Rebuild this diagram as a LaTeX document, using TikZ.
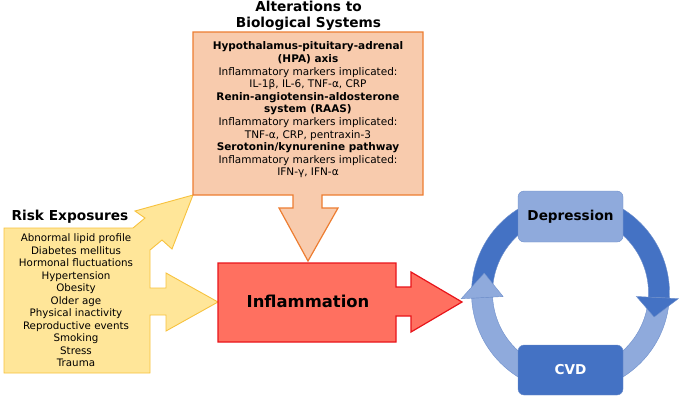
\documentclass[tikz,border=0pt]{standalone}
\usepackage{fontspec}
\setmainfont{DejaVu Sans}
\definecolor{yfill}{HTML}{FFE699}
\definecolor{yedge}{HTML}{F7C23E}
\definecolor{ofill}{HTML}{F8CBAD}
\definecolor{oedge}{HTML}{ED7D31}
\definecolor{rfill}{HTML}{FF7060}
\definecolor{redge}{HTML}{E8141A}
\definecolor{dblue}{HTML}{4472C4}
\definecolor{lblue}{HTML}{8FAADC}
\definecolor{bedge}{HTML}{6E8FCB}
\begin{document}
\begin{tikzpicture}[x=1pt,y=-1pt,
  yshape/.style={fill=yfill,draw=yedge,line width=0.9pt,line join=miter},
  oshape/.style={fill=ofill,draw=oedge,line width=1.2pt,line join=miter},
  rshape/.style={fill=rfill,draw=redge,line width=1.2pt,line join=miter},
  darkpart/.style={fill=dblue,draw=bedge,line width=0.4pt},
  lightpart/.style={fill=lblue,draw=bedge,line width=0.4pt},
  bodytxt/.style={inner sep=0pt,align=center,font=\fontsize{10.5}{12.6}\selectfont},
  titletxt/.style={inner sep=0pt,align=center,font=\fontsize{13.7}{16}\selectfont\bfseries},
  boxtxt/.style={inner sep=0pt,font=\fontsize{13.6}{15}\selectfont\bfseries}]
\useasboundingbox (0,0) rectangle (679,400);

% Risk exposures shape
\draw[yshape] (4,228) -- (133,228) -- (145,218) -- (135,211) -- (193,195)
  -- (172,249) -- (162,240) -- (150,250) -- (150,288) -- (166,288) -- (166,273)
  -- (218,302) -- (166,331) -- (166,315) -- (150,315) -- (150,373) -- (4,373) -- cycle;
\node[titletxt] (risktitle) at (70,217) {Risk Exposures};
\node[bodytxt,font=\fontsize{10.3}{12.5}\selectfont] (risklist) at (76,300.5) {Abnormal lipid profile\\Diabetes mellitus\\Hormonal fluctuations\\Hypertension\\Obesity\\Older age\\Physical inactivity\\Reproductive events\\Smoking\\Stress\\Trauma};

% Alterations shape
\draw[oshape] (193,32) -- (423,32) -- (423,195) -- (322,195) -- (322,208) -- (338,208)
  -- (308,261) -- (279,208) -- (293,208) -- (293,195) -- (193,195) -- cycle;
\node[titletxt] (alttitle) at (308.5,16) {Alterations to\\Biological Systems};
\node[bodytxt] (altlist) at (308,110) {\textbf{Hypothalamus-pituitary-adrenal}\\\textbf{(HPA) axis}\\Inflammatory markers implicated:\\IL-1β, IL-6, TNF-α, CRP\\\textbf{Renin-angiotensin-aldosterone}\\\textbf{system (RAAS)}\\Inflammatory markers implicated:\\TNF-α, CRP, pentraxin-3\\\textbf{Serotonin/kynurenine pathway}\\Inflammatory markers implicated:\\IFN-γ, IFN-α};

% Inflammation shape
\draw[rshape] (218,263) -- (396,263) -- (396,287) -- (411,287) -- (411,272) -- (462,302)
  -- (411,332) -- (411,316) -- (396,316) -- (396,342) -- (218,342) -- cycle;
\node[inner sep=0pt,font=\fontsize{16.4}{19}\selectfont\bfseries] (infl) at (308,301) {Inflammation};

% Cycle
\begin{scope}[shift={(570.5,293)}]
  \draw[darkpart] plot[domain=177:363,samples=80] (\x:99) -- plot[domain=363:177,samples=80] (\x:78) -- cycle;
  \draw[lightpart] plot[domain=3:177,samples=80] (\x:99) -- plot[domain=177:3,samples=80] (\x:78) -- cycle;
  \draw[darkpart] (363:66) -- (363:108) -- (376:87) -- cycle;
  \draw[lightpart] (177:67.5) -- (177:109.5) -- (193:88.5) -- cycle;
\end{scope}
\draw[lightpart,rounded corners=6pt] (518,191) rectangle (623,242);
\node[boxtxt] (dep) at (570.5,217) {Depression};
\draw[darkpart,rounded corners=6pt] (518,345) rectangle (623,395);
\node[boxtxt,text=white] (cvd) at (570.5,370) {CVD};
\end{tikzpicture}
\end{document}
